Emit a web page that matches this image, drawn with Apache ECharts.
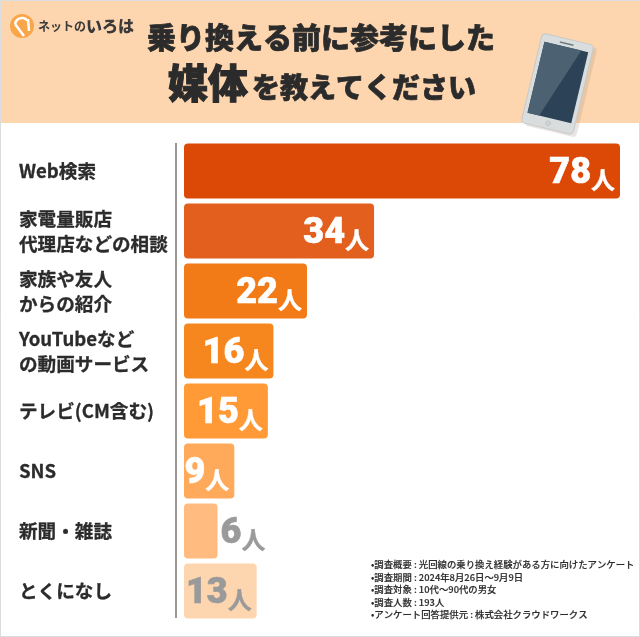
<!DOCTYPE html>
<html><head><meta charset="utf-8">
<style>html,body{margin:0;padding:0;background:#fff}#c{width:640px;height:637px}</style>
<script src="https://cdn.jsdelivr.net/npm/echarts@6/dist/echarts.min.js"></script>
</head><body><div id="c"></div>
<script>
const categories = ['Web検索','家電量販店\n代理店などの相談','家族や友人\nからの紹介','YouTubeなど\nの動画サービス','テレビ(CM含む)','SNS','新聞・雑誌','とくになし'];
const counts = [78,34,22,16,15,9,6,13];
const unit = '人';
const barColors = ['#dc4805','#e25f1e','#f27a17','#f6871f','#ff9a37','#ffaa5a','#ffbb80','#fdd5ae'];
const titleLine1 = '乗り換える前に参考にした';
const titleBig = '媒体';
const titleRest = 'を教えてください';
const brandSmall = 'ネットの';
const brandBig = 'いろは';
const notes = ['•調査概要 : 光回線の乗り換え経験がある方に向けたアンケート','•調査期間 : 2024年8月26日～9月9日','•調査対象 : 10代～90代の男女','•調査人数 : 193人','•アンケート回答提供元 : 株式会社クラウドワークス'];

const jp = '"Noto Sans CJK JP"';
const ink = '#2b2b2b';
const grayText = '#9a9a9a';
const chart = echarts.init(document.getElementById('c'), null, {renderer:'canvas'});

function labelFor(i){
  const gray = counts[i]===6 || counts[i]===13;
  const col = gray ? grayText : '#fff';
  return {
    show:true,
    position: counts[i]===6 ? 'right' : 'insideRight',
    distance: counts[i]===6 ? 3 : 5,
    offset:[0,3],
    formatter: p => `{n|${p.value}}{u|${unit}}`,
    rich:{
      n:{fontFamily:'Roboto',fontWeight:900,fontSize:36,color:col,textBorderColor:col,textBorderWidth:0.6,verticalAlign:'bottom'},
      u:{fontFamily:jp,fontWeight:700,fontSize:24,color:col,textBorderColor:col,textBorderWidth:0.4,verticalAlign:'bottom',lineHeight:30}
    }
  };
}

const graphic = [
  {type:'rect',z:0,shape:{x:0,y:0,width:640,height:123},style:{fill:'#fdd5ae'}},
  {type:'rect',z:0,shape:{x:0.5,y:0.5,width:639,height:636},style:{fill:'none',stroke:'#d9dddd',lineWidth:1}},
  // logo
  {type:'circle',z:1,shape:{cx:22,cy:26,r:12},style:{fill:'#f9a54a'}},
  {type:'arc',z:2,shape:{cx:22,cy:25,r:7,startAngle:3.3,endAngle:5.6},style:{stroke:'#fff',lineWidth:2.5,fill:'none'}},
  {type:'line',z:2,shape:{x1:15,y1:24,x2:24,y2:36},style:{stroke:'#fff',lineWidth:2.5}},
  {type:'line',z:2,shape:{x1:28,y1:19,x2:29,y2:31},style:{stroke:'#fff',lineWidth:2.5}},
  {type:'text',z:2,style:{x:38,y:26,text:`{a|${brandSmall}}{b|${brandBig}}`,verticalAlign:'middle',
    rich:{a:{fontFamily:jp,fontWeight:700,fontSize:12,fill:'#3a3a3a'},b:{fontFamily:jp,fontWeight:900,fontSize:16,fill:'#3a3a3a'}}}},
  // title
  {type:'text',z:2,style:{x:321,y:38,text:titleLine1,align:'center',verticalAlign:'middle',fontFamily:jp,fontWeight:900,fontSize:29,fill:ink,stroke:ink,lineWidth:0.7}},
  {type:'text',z:2,style:{x:168,y:83,text:titleBig,verticalAlign:'middle',fontFamily:jp,fontWeight:900,fontSize:40,fill:ink,stroke:ink,lineWidth:1}},
  {type:'text',z:2,style:{x:252,y:87,text:titleRest,verticalAlign:'middle',fontFamily:jp,fontWeight:900,fontSize:28,fill:ink,stroke:ink,lineWidth:0.7}},
  // phone
  {type:'group',z:1,x:558,y:84,rotation:-0.235,children:[
    {type:'rect',shape:{x:-26,y:-46,width:53,height:92,r:4},style:{fill:'rgba(170,150,130,0.25)'},x:3,y:2},
    {type:'rect',shape:{x:-27,y:-46,width:53,height:92,r:4},style:{fill:'#d9dddd',stroke:'#c4c9ca',lineWidth:1}},
    {type:'rect',shape:{x:-23,y:-38,width:45,height:73},style:{fill:'#2c4357'}},
    {type:'polygon',shape:{points:[[-23,-38],[15,-38],[-11,35],[-23,35]]},style:{fill:'#4c6272'}},
    {type:'rect',shape:{x:-8,y:-42,width:14,height:1.5},style:{fill:'#6f7a80'}},
    {type:'circle',shape:{cx:-0.5,cy:40.5,r:2.5},style:{fill:'#cdd2d3',stroke:'#bbb',lineWidth:.5}}
  ]},
  // axis line
  {type:'line',z:3,shape:{x1:176,y1:143,x2:176,y2:618},style:{stroke:'#9a9794',lineWidth:2}},
  // notes
  ...notes.map((t,i)=>({type:'text',z:3,style:{x:371,y:[564,577,589,602,614][i],text:t,verticalAlign:'middle',fontFamily:jp,fontWeight:500,fontSize:9.4,fill:ink,stroke:ink,lineWidth:0.15}}))
];

const dotted = {symbol:'circle',symbolSize:0.25,color:'rgba(255,154,55,0.45)',dashArrayX:[[1,5]],dashArrayY:[1,5],rotation:0,maxTileWidth:64,maxTileHeight:64};

chart.setOption({
  animation:false,
  backgroundColor:'#fff',
  graphic,
  grid:{left:184,top:141,width:436,height:480,containLabel:false},
  xAxis:{type:'value',min:0,max:78,show:false},
  yAxis:{type:'category',inverse:true,data:categories,offset:8,
    axisLine:{show:false},axisTick:{show:false},
    axisLabel:{align:'left',margin:157,fontFamily:jp,fontWeight:700,fontSize:18.6,lineHeight:25,color:ink,textBorderColor:ink,textBorderWidth:0.3,padding:[1,0,0,0]}},
  series:[{type:'bar',barWidth:55,
    data:counts.map((v,i)=>{
      const itemStyle = {color:barColors[i],borderRadius:4};
      if (v===13 || v===9) itemStyle.decal = dotted;
      return {value:v,itemStyle,label:labelFor(i)};
    })}]
});
</script></body></html>
